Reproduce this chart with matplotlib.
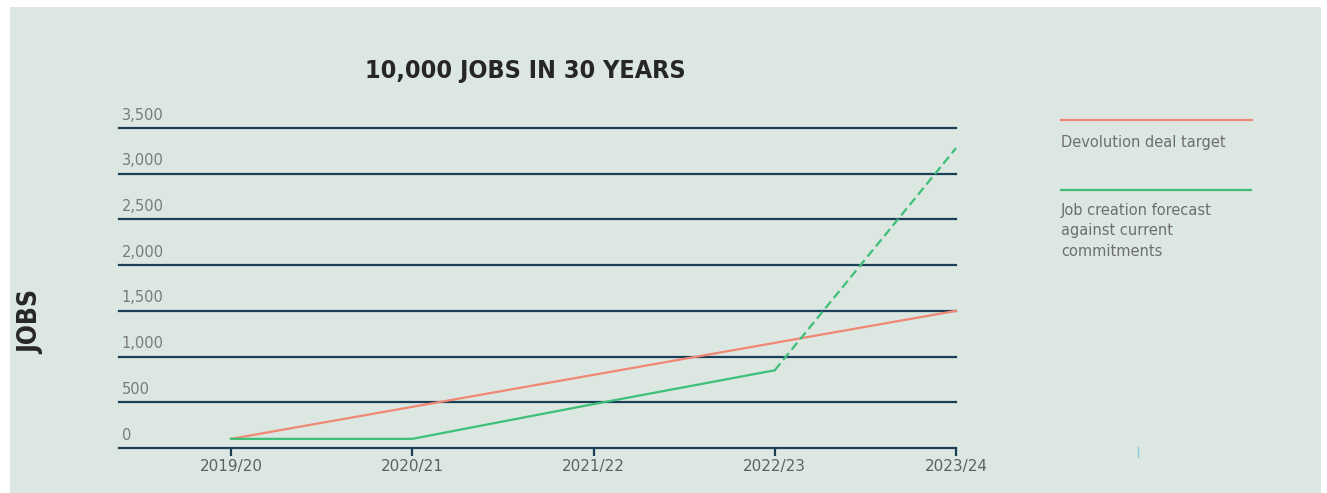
import matplotlib.pyplot as plt
from matplotlib.patches import Rectangle
from matplotlib.lines import Line2D
import matplotlib.transforms as mtransforms

years = ['2019/20', '2020/21', '2021/22', '2022/23', '2023/24']
target = [100, 450, 800, 1150, 1500]
forecast = [100, 100, 480, 850, 3280]
y_ticks = [0, 500, 1000, 1500, 2000, 2500, 3000, 3500]
y_tick_labels = ['0', '500', '1,000', '1,500', '2,000', '2,500', '3,000', '3,500']

bg = '#dce7e2'
navy = '#1c3f58'
red = '#f08774'
green = '#3dbf78'
grey = '#6e6e6e'

W, H = 1327, 493
fig = plt.figure(figsize=(W / 100, H / 100), dpi=100)
fig.patch.set_facecolor('white')
fig.add_artist(Rectangle((10 / W, 0), (1321 - 10) / W, (493 - 7) / H,
                         transform=fig.transFigure, facecolor=bg, edgecolor='none', zorder=0))

ax = fig.add_axes([119 / W, (H - 448) / H, (956 - 119) / W, (448 - 128) / H])
ax.set_facecolor('none')
x = list(range(len(years)))
ax.set_xlim(-0.618, 4)
ax.set_ylim(0, 3500)

# gridlines
for v in y_ticks[1:]:
    ax.axhline(v, color=navy, lw=1.6, zorder=1, clip_on=False)

# y labels sit just above their gridline
trans = mtransforms.blended_transform_factory(ax.transAxes, ax.transData)
for v, lab in zip(y_ticks, y_tick_labels):
    ax.text(0.003, v + 60, lab, transform=trans, ha='left', va='bottom',
            fontsize=10.5, color='#7a7a7a')

ax.plot(x, target, color=red, lw=1.6, zorder=3, clip_on=False)
ax.plot(x[:4], forecast[:4], color=green, lw=1.6, zorder=3, clip_on=False)
ax.plot(x[3:], forecast[3:], color=green, lw=1.6, ls=(0, (4, 2)), zorder=3, clip_on=False)

for s in ['top', 'right', 'left']:
    ax.spines[s].set_visible(False)
ax.spines['bottom'].set_color(navy)
ax.spines['bottom'].set_linewidth(1.6)
ax.set_yticks([])
ax.set_xticks(x)
ax.set_xticklabels(years)
ax.tick_params(axis='x', direction='out', length=6, width=1.6, color=navy,
               labelsize=11, labelcolor='#606060', pad=2)

head = dict(fontweight='bold', color='#262626', family='DejaVu Sans', stretch='condensed')
fig.text(525 / W, 1 - 71 / H, '10,000 JOBS IN 30 YEARS', ha='center', va='center',
         fontsize=18, **head)
fig.text(31 / W, 1 - 322 / H, 'JOBS', ha='center', va='center', rotation=90,
         fontsize=19, **head)

# legend
fig.add_artist(Line2D([1061 / W, 1252 / W], [1 - 120 / H] * 2, color=red, lw=1.6))
fig.text(1061 / W, 1 - 142 / H, 'Devolution deal target', ha='left', va='center',
         fontsize=10.5, color=grey)
fig.add_artist(Line2D([1061 / W, 1251 / W], [1 - 190 / H] * 2, color=green, lw=1.6))
fig.text(1061 / W, 1 - 203 / H, 'Job creation forecast\nagainst current\ncommitments',
         ha='left', va='top', fontsize=10.5, color=grey, linespacing=1.45)

fig.add_artist(Line2D([1138 / W, 1138 / W], [1 - 447 / H, 1 - 457 / H], color='#8ccbd8', lw=1))

fig.savefig('out.png', dpi=100, facecolor=fig.get_facecolor())
